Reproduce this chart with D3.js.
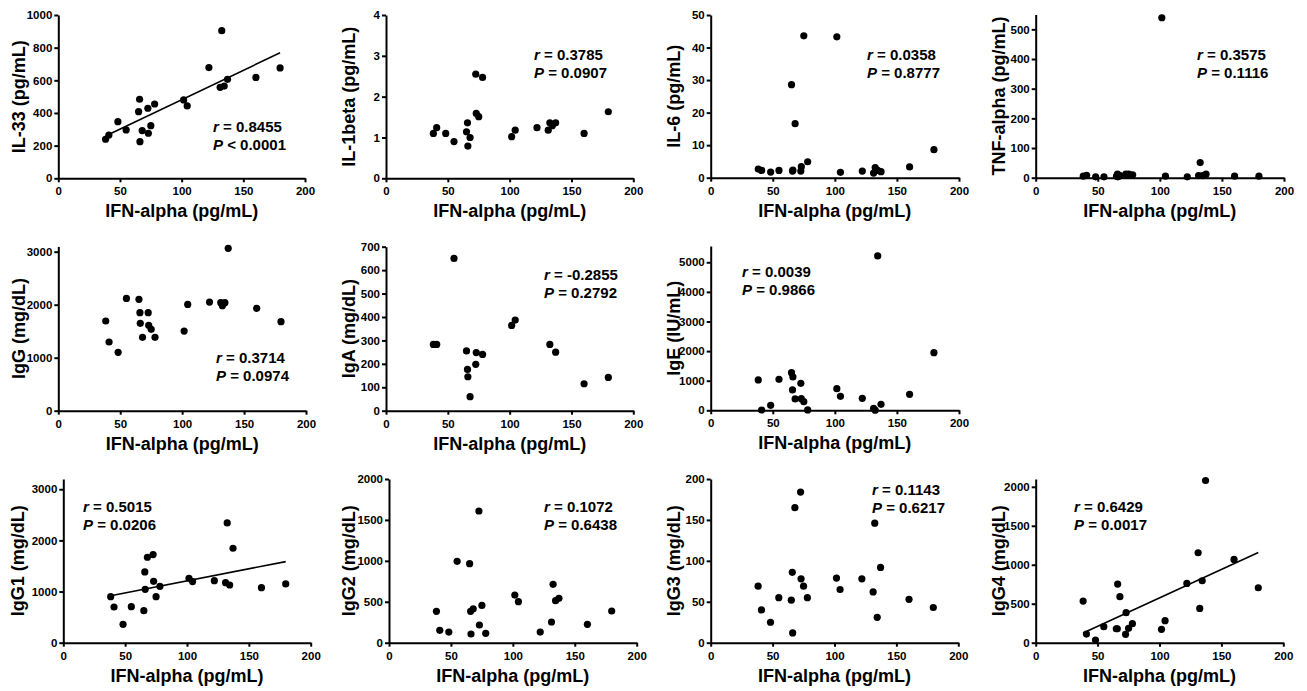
<!DOCTYPE html>
<html><head><meta charset="utf-8">
<script src="https://cdn.jsdelivr.net/npm/d3@7"></script>
<style>
body{margin:0;background:#fff}
svg{display:block}
text{font-family:"Liberation Sans",Arial,Helvetica,sans-serif;font-weight:bold;fill:#000}
</style>
</head><body><svg id="chart" width="1307" height="691"></svg>
<script>
// ---- data ----
const ifnAlpha = [38.3, 41, 48.3, 55, 65.1, 65.9, 66.2, 68, 72.6, 73, 75, 78.1, 101.6, 104.5, 122.1, 131.2, 132.5, 134.5, 137.2, 160.2, 179.8];
const il33   = [239, 265, 347, 296, 408, 484, 224, 292, 429, 276, 322, 455, 480, 443, 678, 557, 904, 565, 606, 618, 676];
const il1b   = [1.10, 1.24, 1.10, 0.90, 1.14, 1.36, 0.79, 1.00, 2.55, 1.59, 1.51, 2.47, 1.02, 1.18, 1.24, 1.18, 1.36, 1.29, 1.36, 1.10, 1.63];
const il6    = [2.66, 2.25, 1.74, 2.25, 28.6, 2.05, 2.3, 16.6, 2.05, 3.4, 43.6, 4.9, 43.3, 1.64, 2.05, 1.43, 3.1, 2.25, 1.84, 3.3, 8.6];
const tnfa   = [5, 8, 3, 3, 5, 12, 3, 7, 12, 10, 12, 10, 539, 5, 3, 7, 51, 7, 12, 5, 5];
const igg    = [1692, 1296, 1101, 2119, 2101, 1849, 1648, 1384, 1849, 1610, 1535, 1384, 1503, 2006, 2050, 2038, 1981, 2038, 3063, 1931, 1679];
const iga    = [283, 283, null, 650, 255, 176, 145, 60, 198, 248, null, 240, 364, 387, null, null, 283, null, 250, 115, 142];
const ige    = [1025, 10, 169, 1047, 1272, 687, 1126, 383, 912, 394, 293, 11, 732, 473, 405, 68, 5, 5214, 203, 540, 1948];
const igg1   = [900, 698, 359, 705, 626, 1383, 1044, 1670, 1722, 1200, 900, 1102, 1259, 1194, 1213, 1174, 2342, 1128, 1846, 1076, 1148];
const igg2   = [383, 151, 130, 994, 965, 383, 106, 415, 1609, 216, 456, 114, 582, 501, 130, 253, 713, 513, 542, 224, 387];
const igg3   = [69, 40, 25, 55, 52, 86, 12, 165, 184, 78, 69, 55, 79, 65, 78, 62, 146, 31, 92, 53, 43];
const igg4   = [534, 111, 34, 205, 179, 179, 752, 590, 107, 385, 184, 244, 171, 282, 761, 1154, 440, 795, 2081, 1068, 705];

const seriesList = [il33, il1b, il6, tnfa, igg, iga, ige, igg1, igg2, igg3, igg4];
const yTitles = ["IL-33 (pg/mL)", "IL-1beta (pg/mL)", "IL-6 (pg/mL)", "TNF-alpha (pg/mL)", "IgG (mg/dL)", "IgA (mg/dL)", "IgE (IU/mL)", "IgG1 (mg/dL)", "IgG2 (mg/dL)", "IgG3 (mg/dL)", "IgG4 (mg/dL)"];
const xTitle = "IFN-alpha (pg/mL)";
const xTicks = [0, 50, 100, 150, 200];
const yTicks = [
  [0, 200, 400, 600, 800, 1000],
  [0, 1, 2, 3, 4],
  [0, 10, 20, 30, 40, 50],
  [0, 100, 200, 300, 400, 500],
  [0, 1000, 2000, 3000],
  [0, 100, 200, 300, 400, 500, 600, 700],
  [0, 1000, 2000, 3000, 4000, 5000],
  [0, 1000, 2000, 3000],
  [0, 500, 1000, 1500, 2000],
  [0, 50, 100, 150, 200],
  [0, 500, 1000, 1500, 2000]
];
const yMax = [1000, 4, 50, 550, 3100, 700, 5550, 3200, 2000, 200, 2100];
const rValues = ["0.8455", "0.3785", "0.0358", "0.3575", "0.3714", "-0.2855", "0.0039", "0.5015", "0.1072", "0.1143", "0.6429"];
const pValues = ["< 0.0001", "= 0.0907", "= 0.8777", "= 0.1116", "= 0.0974", "= 0.2792", "= 0.9866", "= 0.0206", "= 0.6438", "= 0.6217", "= 0.0017"];
const showFit = [true, false, false, false, false, false, false, true, false, false, true];

// ---- layout (pixels) ----
const layout = [
  {l: 58.3,   r: 305,    b: 178.3, t: 15,    tx: 25,   sx: 213,  sy: 132},
  {l: 386,    r: 633.3,  b: 178.3, t: 15,    tx: 355,  sx: 534,  sy: 60},
  {l: 710.7,  r: 959,    b: 177.7, t: 15,    tx: 680,  sx: 867,  sy: 60},
  {l: 1035.7, r: 1284,   b: 177.7, t: 14.5,  tx: 1005, sx: 1197, sy: 59.5},
  {l: 58.3,   r: 306,    b: 410.7, t: 246.4, tx: 25,   sx: 216,  sy: 363},
  {l: 386,    r: 633.3,  b: 410.7, t: 246.7, tx: 355,  sx: 544,  sy: 280},
  {l: 710.7,  r: 959,    b: 410.3, t: 246,   tx: 680,  sx: 742,  sy: 277},
  {l: 63.3,   r: 310.7,  b: 642.7, t: 479,   tx: 23.5, sx: 83,   sy: 512},
  {l: 389,    r: 636.7,  b: 642.7, t: 479,   tx: 355,  sx: 544,  sy: 511.5},
  {l: 710.7,  r: 958.3,  b: 642.7, t: 479,   tx: 680,  sx: 872,  sy: 495},
  {l: 1035.7, r: 1283.3, b: 642.7, t: 479,   tx: 1005, sx: 1074, sy: 511.5}
];

const svg = d3.select("#chart");
const fmt = d => String(d);

seriesList.forEach((ys, i) => {
  const L = layout[i];
  const x = d3.scaleLinear().domain([0, 200]).range([L.l, L.r]);
  const y = d3.scaleLinear().domain([0, yMax[i]]).range([L.b, L.t]);
  const g = svg.append("g");

  const pts = ifnAlpha.map((xv, k) => ({x: xv, y: ys[k]})).filter(d => d.y !== null);

  // axes
  const xa = g.append("g").attr("transform", `translate(0,${L.b})`)
    .call(d3.axisBottom(x).tickValues(xTicks).tickFormat(fmt).tickSize(4).tickPadding(5).tickSizeOuter(0));
  const ya = g.append("g").attr("transform", `translate(${L.l},0)`)
    .call(d3.axisLeft(y).tickValues(yTicks[i]).tickFormat(fmt).tickSize(4).tickPadding(2).tickSizeOuter(0));
  [xa, ya].forEach(a => {
    a.attr("font-family", null);
    a.select(".domain").attr("stroke", "#000").attr("stroke-width", 2);
    a.selectAll(".tick line").attr("stroke", "#000").attr("stroke-width", 2);
    a.selectAll(".tick text").attr("font-size", 11.5).attr("fill", "#000");
  });

  // regression line
  if (showFit[i]) {
    const mx = d3.mean(pts, d => d.x), my = d3.mean(pts, d => d.y);
    const sxy = d3.sum(pts, d => (d.x - mx) * (d.y - my));
    const sxx = d3.sum(pts, d => (d.x - mx) ** 2);
    const slope = sxy / sxx, icpt = my - slope * mx;
    const ext = d3.extent(pts, d => d.x);
    g.append("path")
      .datum(ext.map(v => [v, icpt + slope * v]))
      .attr("d", d3.line().x(d => x(d[0])).y(d => y(d[1])))
      .attr("stroke", "#000").attr("stroke-width", 1.6).attr("fill", "none");
  }

  // points
  g.selectAll("circle").data(pts).join("circle")
    .attr("cx", d => x(d.x)).attr("cy", d => y(d.y)).attr("r", 3.6).attr("fill", "#000");

  // titles
  g.append("text").attr("x", (L.l + L.r) / 2).attr("y", L.b + 39)
    .attr("text-anchor", "middle").attr("font-size", 18).text(xTitle);
  g.append("text").attr("transform", `translate(${L.tx},${(L.b + L.t) / 2}) rotate(-90)`)
    .attr("text-anchor", "middle").attr("font-size", 18).text(yTitles[i]);

  // stats
  const t1 = g.append("text").attr("x", L.sx).attr("y", L.sy).attr("font-size", 15);
  t1.append("tspan").attr("font-style", "italic").text("r");
  t1.append("tspan").text(" = " + rValues[i]);
  const t2 = g.append("text").attr("x", L.sx).attr("y", L.sy + 18).attr("font-size", 15);
  t2.append("tspan").attr("font-style", "italic").text("P");
  t2.append("tspan").text(" " + pValues[i]);
});
</script>
</body></html>
